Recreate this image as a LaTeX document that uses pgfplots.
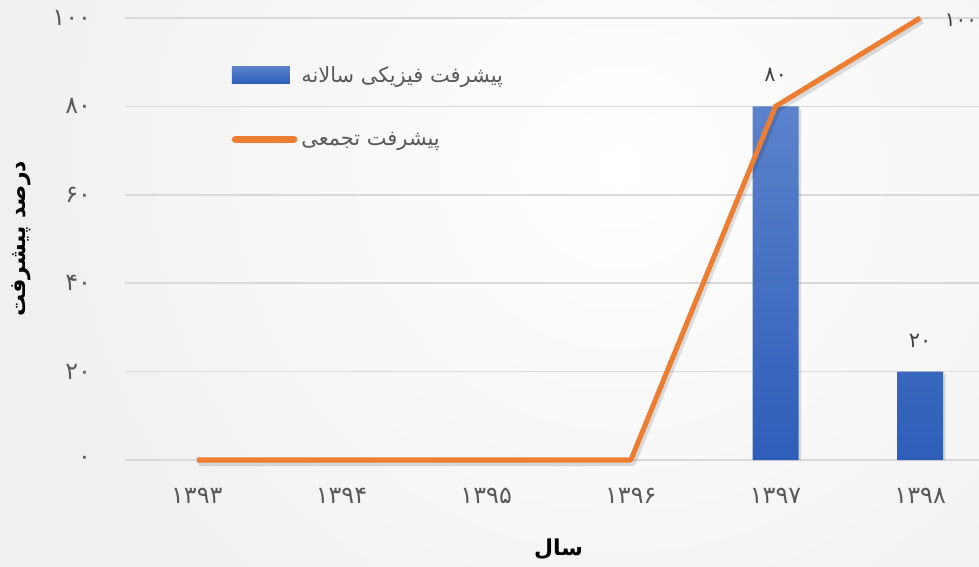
\documentclass[border=0pt]{standalone}
\usepackage{pgfplots}
\pgfplotsset{compat=1.18}
\usepackage{fontspec}
\setmainfont{DejaVu Sans}
\newfontfamily\arabicfont[Script=Arabic]{DejaVu Sans}
\TeXXeTstate=1
\definecolor{txtgray}{HTML}{595959}
\definecolor{txtdark}{HTML}{404040}
\definecolor{gridgray}{HTML}{D9D9D9}
\definecolor{barTop}{HTML}{5B82CB}
\definecolor{barBot}{HTML}{2E5EB9}
\definecolor{lineOr}{HTML}{ED7D31}
\begin{document}
\begin{tikzpicture}
\begin{scope}
\clip (0,0) rectangle (979bp,567bp);
\fill[black!6] (0,0) rectangle (979bp,567bp);
\shade[inner color=white, outer color=black!6] (620bp,400bp) circle (620bp);
\end{scope}
\begin{axis}[
  at={(124.5bp,107bp)}, anchor=south west,
  scale only axis, width=868bp, height=442bp,
  xmin=-0.5, xmax=5.5, ymin=0, ymax=100,
  clip=false,
  xtick={0,1,2,3,4,5},
  xticklabels={۱۳۹۳,۱۳۹۴,۱۳۹۵,۱۳۹۶,۱۳۹۷,۱۳۹۸},
  ytick={0,20,40,60,80,100},
  yticklabels={۰,۲۰,۴۰,۶۰,۸۰,۱۰۰},
  ticklabel style={font=\arabicfont\fontsize{24}{26}\selectfont, text=txtgray},
  yticklabel style={anchor=east, xshift=-30bp},
  xticklabel style={anchor=north, yshift=-25bp},
  axis line style={draw=none},
  major tick length=0pt,
  ymajorgrids, grid style={gridgray, line width=1.5bp},
  xlabel={\arabicfont\bfseries\fontsize{22}{24}\selectfont\beginR سال\endR},
  ylabel={\arabicfont\bfseries\fontsize{22}{24}\selectfont\beginR درصد پیشرفت\endR},
  label style={text=txtgray},
  every axis x label/.style={at={(axis description cs:0.5,0)}, yshift=-89bp, anchor=center},
  every axis y label/.style={at={(axis description cs:0,0.5)}, xshift=-103.5bp, rotate=90, anchor=center},
  legend style={at={(axis description cs:0.12,0.90)}, anchor=north west, draw=none, fill=none,
    font=\arabicfont\fontsize{21}{24}\selectfont, text=txtgray,
    row sep=44bp, column sep=2bp},
  legend cell align=left,
]
% bar shadow
\addplot[ybar, bar width=46bp, draw=none, fill=black, opacity=0.12, forget plot,
  bar shift=2.5bp] coordinates {(4,79.4) (5,19.4)};
\addplot[ybar, bar width=46bp, draw=none, top color=barTop, bottom color=barBot,
  point meta=explicit symbolic, nodes near coords,
  every node near coord/.append style={font=\arabicfont\fontsize{21}{24}\selectfont, text=txtdark, yshift=21bp},
  legend image code/.code={\shade[top color=barTop, bottom color=barBot] (0bp,-8.5bp) rectangle (58bp,8.5bp);}
  ] coordinates {(4,80) [۸۰] (5,20) [۲۰]};
\addlegendentry{\beginR پیشرفت فیزیکی سالانه\endR}
% line shadow
\addplot[black, opacity=0.12, line width=6bp, line join=round, forget plot, shift={(2bp,-3bp)}]
  coordinates {(0,0) (1,0) (2,0) (3,0) (4,80) (5,100)};
\addplot[lineOr, line width=5bp, line join=round,
  point meta=explicit symbolic, nodes near coords,
  every node near coord/.append style={font=\arabicfont\fontsize{20}{24}\selectfont, text=txtdark, anchor=west, xshift=19bp, yshift=-2bp},
  legend image code/.code={\draw[lineOr, line width=7bp, line cap=round] (3.5bp,0) -- (62bp,0);}
  ] coordinates {(0,0) [] (1,0) [] (2,0) [] (3,0) [] (4,80) [] (5,100) [۱۰۰]};
\addlegendentry{\beginR پیشرفت تجمعی\endR}
\end{axis}
\pgfresetboundingbox
\useasboundingbox (0,0) rectangle (979bp,567bp);
\end{tikzpicture}
\end{document}
